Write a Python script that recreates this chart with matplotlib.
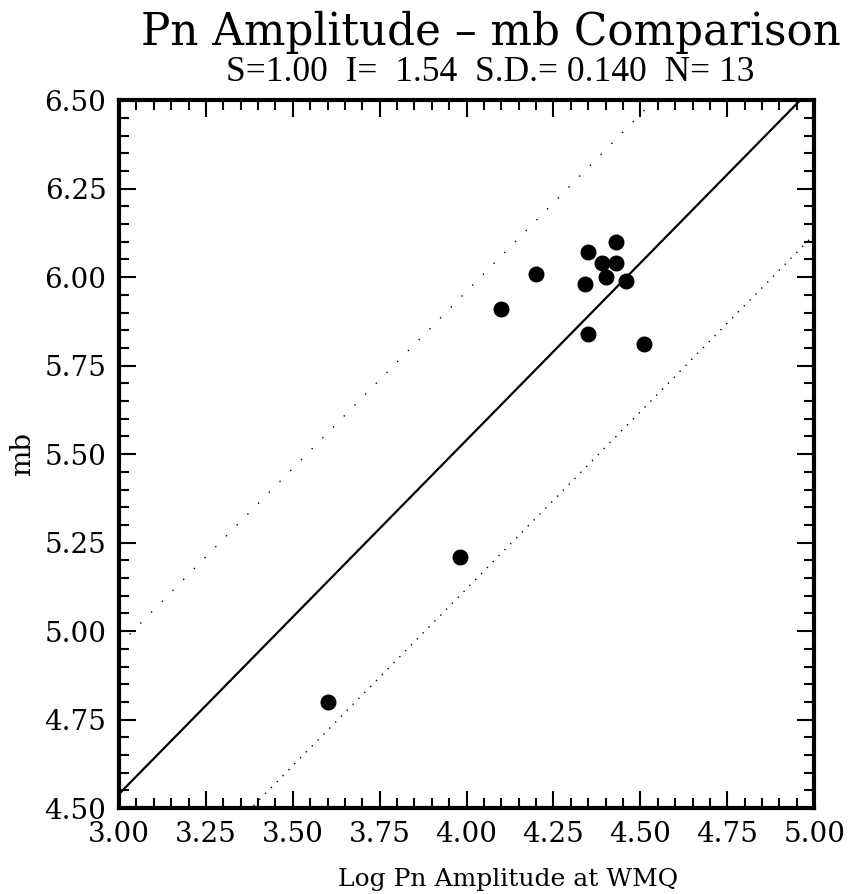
import numpy as np
import matplotlib.pyplot as plt
from matplotlib.ticker import MultipleLocator

# regression summary printed on the chart
slope = 1.00
intercept = 1.54
sd = 0.140

# Log Pn amplitude at WMQ vs mb
log_amp = [3.60, 3.98, 4.10, 4.20, 4.34, 4.35, 4.35, 4.39, 4.43, 4.43, 4.40, 4.46, 4.51]
mb = [4.80, 5.21, 5.91, 6.01, 5.98, 6.07, 5.84, 6.04, 6.04, 6.10, 6.00, 5.99, 5.81]

fig = plt.figure(figsize=(8.53, 8.94), dpi=100)
ax = fig.add_axes([0.1395, 0.096, 0.815, 0.792])

serif = ['DejaVu Serif']

# fitted line and +/- 3 S.D. bounds
xx = np.array([3.0, 5.0])
ax.plot(xx, slope * xx + intercept, color='black', lw=1.6)
ax.plot(xx, slope * xx + intercept + 3 * sd, color='black', lw=1.0,
        linestyle=(0, (1, 10)))
ax.plot(xx, slope * xx + intercept - 3 * sd, color='black', lw=1.0,
        linestyle=(0, (1, 5)))

ax.plot(log_amp, mb, 'o', color='black', markersize=10.5)

ax.set_xlim(3.0, 5.0)
ax.set_ylim(4.5, 6.5)
ax.xaxis.set_major_locator(MultipleLocator(0.25))
ax.xaxis.set_minor_locator(MultipleLocator(0.05))
ax.yaxis.set_major_locator(MultipleLocator(0.25))
ax.yaxis.set_minor_locator(MultipleLocator(0.05))
ax.xaxis.set_major_formatter(lambda v, p: f'{v:.2f}')
ax.yaxis.set_major_formatter(lambda v, p: f'{v:.2f}')
ax.tick_params(which='both', direction='in', top=True, right=True, width=1.5)
ax.tick_params(which='major', length=12, labelsize=20)
ax.tick_params(which='minor', length=7)
ax.tick_params(axis='x', pad=9)
ax.tick_params(axis='y', pad=9)
for lab in ax.get_xticklabels() + ax.get_yticklabels():
    lab.set_family(serif)
for s in ax.spines.values():
    s.set_linewidth(3)

ax.set_xlabel('Log Pn Amplitude at WMQ', fontsize=18, family=serif)
ax.xaxis.set_label_coords(0.56, -0.085)
ax.set_ylabel('mb', fontsize=20, family=serif, labelpad=6)

fig.text(0.575, 0.964, 'Pn Amplitude \u2013 mb Comparison', ha='center', va='center',
         fontsize=31.5, family=serif)
fig.text(0.575, 0.919, f'S={slope:.2f}  I=  {intercept:.2f}  S.D.= {sd:.3f}  N= {len(mb)}',
         ha='center', va='center', fontsize=25.5, family=['Liberation Serif'])

fig.savefig('out.png', dpi=100)
